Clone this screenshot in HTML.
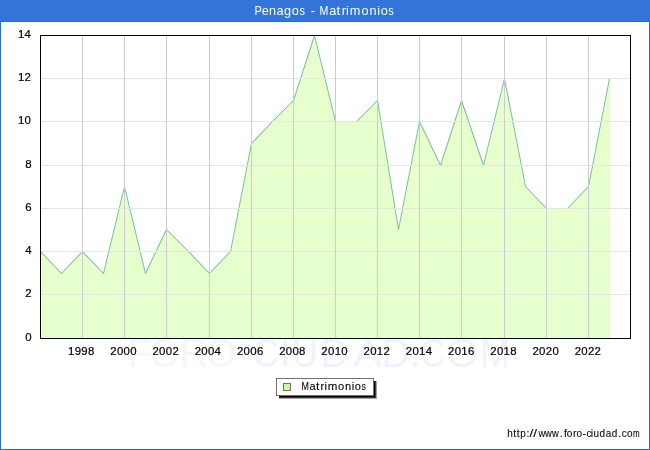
<!DOCTYPE html>
<html><head><meta charset="utf-8"><title>Penagos - Matrimonios</title>
<style>
html,body{margin:0;padding:0;background:#fff;}
body{width:650px;height:450px;overflow:hidden;font-family:"Liberation Sans",sans-serif;}
svg{display:block;will-change:transform;}
</style></head><body>
<svg width="650" height="450" viewBox="0 0 650 450" font-family="Liberation Sans, sans-serif">
<rect x="0" y="0" width="650" height="450" fill="#ffffff"/>
<!-- outer frame -->
<rect x="0.5" y="0.5" width="649" height="449" fill="none" stroke="#2b69d3" stroke-width="1" shape-rendering="crispEdges"/>
<rect x="0" y="0" width="650" height="22" fill="#2b69d3" shape-rendering="crispEdges"/>
<rect x="0" y="0" width="650" height="21" fill="#3474d8" shape-rendering="crispEdges"/>
<g font-size="12.7" fill="#ffffff" text-anchor="middle" ><text transform="translate(258.20,14.7) scale(0.86,1)">P</text><text x="265.20" y="14.7">e</text><text x="272.60" y="14.7">n</text><text x="280.00" y="14.7">a</text><text x="287.50" y="14.7">g</text><text x="295.20" y="14.7">o</text><text transform="translate(302.30,14.7) scale(0.86,1)">s</text><text x="312.80" y="14.7">-</text><text transform="translate(324.00,14.7) scale(0.84,1)">M</text><text x="332.75" y="14.7">a</text><text transform="translate(338.50,14.7) scale(1.1,1)">t</text><text x="343.75" y="14.7">r</text><text x="347.45" y="14.7">i</text><text x="355.05" y="14.7">m</text><text x="365.10" y="14.7">o</text><text x="373.00" y="14.7">n</text><text x="378.65" y="14.7">i</text><text x="384.30" y="14.7">o</text><text transform="translate(391.00,14.7) scale(0.86,1)">s</text></g>
<!-- watermark -->
<g font-size="39.8" fill="#f5f6f5" text-anchor="middle" ><text x="139.90" y="367">F</text><text x="164.50" y="367">O</text><text x="193.90" y="367">R</text><text transform="translate(221.30,367) scale(0.97,1)">O</text></g><g font-size="39.8" fill="#f1f1ff" text-anchor="middle" ><text transform="translate(265.80,367) scale(0.9,1)">C</text><text x="285.20" y="367">I</text><text transform="translate(304.85,367) scale(0.93,1)">U</text><text x="334.70" y="367">D</text><text transform="translate(367.70,367) scale(1.1,1)">A</text><text x="395.80" y="367">D</text><text x="415.20" y="367">.</text><text transform="translate(432.65,367) scale(0.87,1)">C</text><text transform="translate(462.35,367) scale(1.05,1)">O</text><text transform="translate(495.10,367) scale(0.9,1)">M</text></g>
<!-- plot background -->
<rect x="40" y="35" width="591" height="304" fill="#ffffff"/>
<!-- area -->
<polygon points="40.50,338.5 40.50,251.50 61.50,273.50 82.50,251.50 103.50,273.50 124.50,186.50 145.50,273.50 166.50,229.50 188.50,251.50 209.50,273.50 230.50,251.50 251.50,143.50 272.50,121.50 293.50,100.50 314.50,35.50 335.50,121.50 356.50,121.50 377.50,100.50 398.50,229.50 419.50,121.50 440.50,165.50 461.50,100.50 483.50,165.50 504.50,78.50 525.50,186.50 546.50,208.50 567.50,208.50 588.50,186.50 609.50,78.50 610.00,78.50 610.00,338.5" fill="#e6ffcc"/>
<polyline points="40.50,251.50 61.50,273.50 82.50,251.50 103.50,273.50 124.50,186.50 145.50,273.50 166.50,229.50 188.50,251.50 209.50,273.50 230.50,251.50 251.50,143.50 272.50,121.50 293.50,100.50 314.50,35.50 335.50,121.50 356.50,121.50 377.50,100.50 398.50,229.50 419.50,121.50 440.50,165.50 461.50,100.50 483.50,165.50 504.50,78.50 525.50,186.50 546.50,208.50 567.50,208.50 588.50,186.50 609.50,78.50" fill="none" stroke="#7cc0a0" stroke-width="1.05" stroke-linejoin="round"/>
<!-- grid -->
<g stroke="#e4e4e4" stroke-width="1" shape-rendering="crispEdges"><line x1="40" y1="294.5" x2="630" y2="294.5"/><line x1="40" y1="251.5" x2="630" y2="251.5"/><line x1="40" y1="208.5" x2="630" y2="208.5"/><line x1="40" y1="165.5" x2="630" y2="165.5"/><line x1="40" y1="121.5" x2="630" y2="121.5"/><line x1="40" y1="78.5" x2="630" y2="78.5"/></g>
<g stroke="#cccccc" stroke-width="1" shape-rendering="crispEdges"><line x1="82.5" y1="35" x2="82.5" y2="338"/><line x1="124.5" y1="35" x2="124.5" y2="338"/><line x1="166.5" y1="35" x2="166.5" y2="338"/><line x1="209.5" y1="35" x2="209.5" y2="338"/><line x1="251.5" y1="35" x2="251.5" y2="338"/><line x1="293.5" y1="35" x2="293.5" y2="338"/><line x1="335.5" y1="35" x2="335.5" y2="338"/><line x1="377.5" y1="35" x2="377.5" y2="338"/><line x1="419.5" y1="35" x2="419.5" y2="338"/><line x1="461.5" y1="35" x2="461.5" y2="338"/><line x1="504.5" y1="35" x2="504.5" y2="338"/><line x1="546.5" y1="35" x2="546.5" y2="338"/><line x1="588.5" y1="35" x2="588.5" y2="338"/></g>
<!-- plot border -->
<rect x="40.5" y="35.5" width="590" height="303" fill="none" stroke="#000000" stroke-width="1" shape-rendering="crispEdges"/>
<!-- axis labels -->
<g font-size="11.4" fill="#000000" stroke="#000000" stroke-width="0.2"><text x="31.6" y="340.7" text-anchor="end" textLength="6.5" lengthAdjust="spacing">0</text><text x="31.6" y="297.4" text-anchor="end" textLength="6.5" lengthAdjust="spacing">2</text><text x="31.6" y="254.1" text-anchor="end" textLength="6.5" lengthAdjust="spacing">4</text><text x="31.6" y="210.8" text-anchor="end" textLength="6.5" lengthAdjust="spacing">6</text><text x="31.6" y="167.6" text-anchor="end" textLength="6.5" lengthAdjust="spacing">8</text><text x="30.8" y="124.3" text-anchor="end" textLength="12.9" lengthAdjust="spacing">10</text><text x="30.8" y="81.0" text-anchor="end" textLength="12.9" lengthAdjust="spacing">12</text><text x="30.8" y="37.7" text-anchor="end" textLength="12.9" lengthAdjust="spacing">14</text><text x="81.2" y="355.2" text-anchor="middle" textLength="26.3" lengthAdjust="spacing">1998</text><text x="123.4" y="355.2" text-anchor="middle" textLength="26.3" lengthAdjust="spacing">2000</text><text x="165.6" y="355.2" text-anchor="middle" textLength="26.3" lengthAdjust="spacing">2002</text><text x="207.8" y="355.2" text-anchor="middle" textLength="26.3" lengthAdjust="spacing">2004</text><text x="250.1" y="355.2" text-anchor="middle" textLength="26.3" lengthAdjust="spacing">2006</text><text x="292.3" y="355.2" text-anchor="middle" textLength="26.3" lengthAdjust="spacing">2008</text><text x="334.5" y="355.2" text-anchor="middle" textLength="26.3" lengthAdjust="spacing">2010</text><text x="376.7" y="355.2" text-anchor="middle" textLength="26.3" lengthAdjust="spacing">2012</text><text x="418.9" y="355.2" text-anchor="middle" textLength="26.3" lengthAdjust="spacing">2014</text><text x="461.2" y="355.2" text-anchor="middle" textLength="26.3" lengthAdjust="spacing">2016</text><text x="503.4" y="355.2" text-anchor="middle" textLength="26.3" lengthAdjust="spacing">2018</text><text x="545.6" y="355.2" text-anchor="middle" textLength="26.3" lengthAdjust="spacing">2020</text><text x="587.8" y="355.2" text-anchor="middle" textLength="26.3" lengthAdjust="spacing">2022</text></g>
<!-- legend -->
<rect x="279" y="381" width="98" height="18" fill="#a0a0a0" shape-rendering="crispEdges"/>
<rect x="279" y="381" width="97" height="17" fill="#3c3c3c" shape-rendering="crispEdges"/>
<rect x="279" y="381" width="96" height="16" fill="#000000" shape-rendering="crispEdges"/>
<rect x="276.5" y="378.5" width="97" height="17" fill="#ffffff" stroke="#707070" stroke-width="1" shape-rendering="crispEdges"/>
<rect x="283.5" y="383.5" width="7" height="7" fill="#ccff99" stroke="#707070" stroke-width="1" shape-rendering="crispEdges"/>
<g font-size="11.1" fill="#000000" text-anchor="middle" stroke="#000" stroke-width="0.1"><text transform="translate(305.20,389.9) scale(0.8,1)">M</text><text x="312.65" y="389.9">a</text><text transform="translate(317.75,389.9) scale(1.1,1)">t</text><text x="322.45" y="389.9">r</text><text x="325.80" y="389.9">i</text><text transform="translate(332.65,389.9) scale(1.04,1)">m</text><text x="341.10" y="389.9">o</text><text x="348.05" y="389.9">n</text><text x="352.95" y="389.9">i</text><text x="357.85" y="389.9">o</text><text transform="translate(363.65,389.9) scale(0.78,1)">s</text></g>
<!-- footer -->
<g font-size="10.5" fill="#0c0c0c" text-anchor="middle" stroke="#0c0c0c" stroke-width="0.12"><text transform="translate(510.10,437.4) scale(0.95,1)">h</text><text x="514.80" y="437.4">t</text><text x="518.10" y="437.4">t</text><text transform="translate(523.10,437.4) scale(0.95,1)">p</text><text x="528.00" y="437.4">:</text><text transform="translate(531.40,437.4) scale(1.3,1)">/</text><text transform="translate(535.10,437.4) scale(1.3,1)">/</text><text transform="translate(541.90,437.4) scale(0.9,1)">w</text><text transform="translate(548.50,437.4) scale(0.9,1)">w</text><text transform="translate(555.30,437.4) scale(0.9,1)">w</text><text x="561.20" y="437.4">.</text><text x="565.40" y="437.4">f</text><text transform="translate(569.60,437.4) scale(0.95,1)">o</text><text x="574.70" y="437.4">r</text><text transform="translate(579.35,437.4) scale(0.95,1)">o</text><text x="584.15" y="437.4">-</text><text transform="translate(588.90,437.4) scale(0.95,1)">c</text><text x="591.95" y="437.4">i</text><text transform="translate(596.15,437.4) scale(0.95,1)">u</text><text transform="translate(602.30,437.4) scale(0.95,1)">d</text><text transform="translate(608.55,437.4) scale(0.95,1)">a</text><text transform="translate(614.50,437.4) scale(0.95,1)">d</text><text x="619.75" y="437.4">.</text><text transform="translate(624.35,437.4) scale(0.95,1)">c</text><text transform="translate(629.70,437.4) scale(0.95,1)">o</text><text transform="translate(636.25,437.4) scale(0.76,1)">m</text></g>
</svg>
</body></html>
